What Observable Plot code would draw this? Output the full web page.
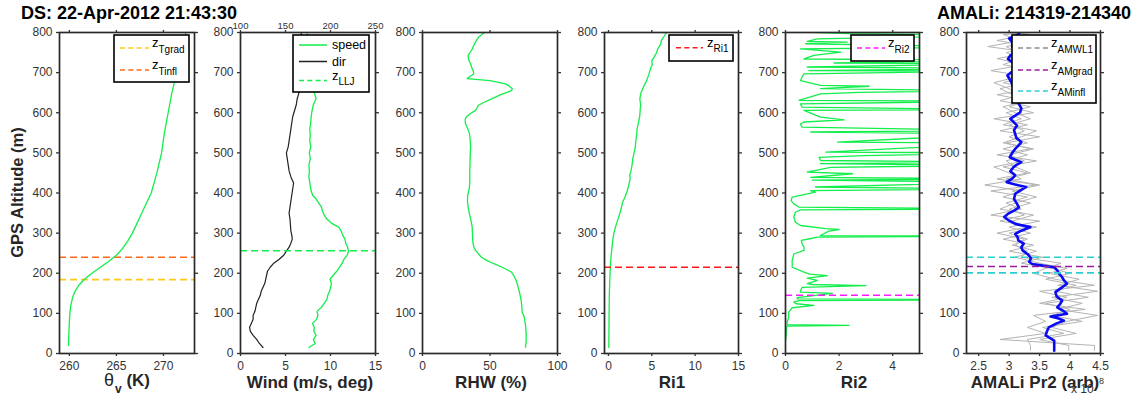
<!DOCTYPE html>
<html>
<head>
<meta charset="utf-8">
<script src="https://cdn.jsdelivr.net/npm/d3@7"></script>
<script src="https://cdn.jsdelivr.net/npm/@observablehq/plot@0.6"></script>
<style>
  body { margin: 0; background: #fff; font-family: "Liberation Sans", Arial, sans-serif; }
  #fig { position: relative; width: 1140px; height: 399px; overflow: hidden; background: #fff; }
</style>
</head>
<body>
<div id="fig"></div>
<script>
// ---- Dropsonde profiles: [altitude (m), value] ----
const thetaProfile = [
  [20,259.9],[50,259.95],[80,260.0],[100,260.05],[120,260.15],[140,260.35],[155,260.6],[170,261.0],
  [185,261.6],[200,262.4],[215,263.3],[230,264.2],[245,265.0],[260,265.6],[280,266.2],[300,266.7],
  [320,267.1],[340,267.5],[360,267.9],[380,268.3],[400,268.7],[450,269.3],[500,269.8],[550,270.1],
  [600,270.5],[650,270.9],[700,271.4],[750,271.9],[800,272.4]
];
const windSpeed = [
  [15,7.6],[25,8.3],[35,8.1],[45,8.4],[55,8.15],[65,8.2],[75,8.0],[85,8.45],[95,8.6],[105,8.5],
  [115,9.0],[125,9.3],[135,9.6],[145,9.7],[155,9.9],[165,10.0],[175,10.1],[185,9.95],[195,10.3],
  [205,10.7],[215,11.0],[225,11.3],[235,11.5],[245,11.85],[255,12.0],[265,11.9],[275,11.7],
  [285,11.6],[295,11.35],[305,11.2],[315,10.9],[325,10.1],[335,9.6],[345,9.3],[355,9.1],[365,9.0],
  [375,8.7],[385,8.4],[395,8.0],[410,7.8],[425,7.7],[440,7.6],[455,7.65],[470,7.6],[485,7.75],
  [500,7.65],[515,7.8],[530,7.7],[545,7.75],[560,7.7],[575,7.8],[590,7.85],[605,7.95],[620,8.1],
  [635,8.4],[650,8.2],[665,8.0],[680,7.9],[700,7.8],[720,7.7],[740,7.75],[760,7.6],[780,7.5],[800,7.4]
];
const windDir = [
  [15,125],[25,121],[35,118],[45,114],[55,111],[65,110],[75,112],[85,114],[95,114],[105,116],
  [115,117],[125,118],[135,120],[145,122],[155,123],[165,125],[175,127],[185,128],[195,129],
  [205,130],[215,133],[225,137],[235,143],[245,148],[255,151],[265,154],[275,156],[285,157.5],
  [295,157],[305,156],[320,155.5],[335,155],[350,154],[365,155],[380,156],[395,157],[410,158],
  [425,159],[440,156],[455,154],[470,153],[485,152],[500,151],[515,153],[530,154],[545,155],
  [560,156],[575,157],[590,158],[605,160],[620,162],[635,163],[650,165],[670,165],[690,166],
  [710,166],[730,167],[750,167],[770,168],[800,167.5]
];
const rhwProfile = [
  [16,76.3],[30,76.8],[49,76.8],[65,76.5],[82,75.8],[95,75.0],[103,73.8],[120,73.5],[132,73.1],
  [150,72.0],[170,70.5],[182,69.4],[195,67.5],[203,65.9],[210,62],[215,59],[225,52],[232,47.5],
  [240,43.7],[250,41],[257,39.3],[265,38],[277,37.3],[300,37.0],[315,36.8],[330,36],[348,34.8],
  [365,33.8],[380,33.3],[395,33.5],[410,34.6],[425,35.0],[440,35.0],[456,35.0],[470,35.2],
  [490,35.3],[514,35.6],[530,35.4],[548,34.8],[560,33.5],[573,31.8],[582,31.6],[589,32.3],
  [597,35.0],[606,39.3],[612,40.5],[618,41.2],[625,45],[635,51.6],[645,58],[650,62],[655,65.9],
  [660,66.5],[667,64],[672,61.5],[680,50],[685,33.1],[692,36],[697,38],[705,37.5],[712,36.5],
  [722,35.6],[732,34.2],[743,33.8],[752,35.5],[760,37],[768,38],[778,39.5],[789,41.7],[795,44],[800,46]
];
const ri1Profile = [
  [15,0.04],[50,0.05],[100,0.07],[150,0.1],[200,0.18],[230,0.25],[260,0.38],[280,0.48],[300,0.62],
  [315,0.8],[330,1.02],[345,1.25],[360,1.45],[375,1.6],[390,1.9],[405,2.15],[420,2.35],[435,2.5],
  [445,2.45],[455,2.6],[470,2.72],[485,2.8],[500,2.95],[515,3.1],[530,3.15],[545,3.25],[560,3.3],
  [575,3.45],[590,3.6],[605,3.65],[620,3.7],[635,3.62],[650,3.75],[665,4.05],[680,4.4],[695,4.65],
  [710,4.85],[720,5.05],[730,5.0],[740,5.3],[750,5.55],[760,5.7],[770,6.0],[780,6.1],[790,6.4],[800,6.7]
];
const ri2Profile = [
  [32,0],[49,0.03],[65,0.04],[68,0.05],[70,2.37],[72,0.06],[78,0.06],[90,0.12],[103,0.12],[114,0.25],
  [120,1.06],[124,0.4],[128,0.31],[132,0.5],[134,8],[136,0.44],[139,0.44],[150,1.75],[153,0.56],
  [157,0.56],[165,0.62],[169,3.0],[172,1.0],[174,0.81],[182,1.19],[188,0.81],[194,1.56],[198,0.9],
  [203,0.69],[215,0.25],[232,0.25],[248,0.31],[257,0.69],[265,0.69],[273,0.62],[282,0.59],[286,0.9],
  [290,1.2],[292,8],[294,1.3],[305,1.62],[309,2.0],[311,1.5],[319,0.56],[327,0.37],[340,0.31],
  [352,0.37],[358,0.56],[360,8],[365,0.5],[373,0.31],[381,0.21],[390,0.25],[402,1.12],[406,0.94],
  [410,8],[415,1.12],[427,8],[432,1.0],[435,8],[439,0.94],[448,2.5],[452,0.81],[464,1.69],[469,8],
  [473,1.3],[477,8],[481,1.31],[489,1.25],[493,2.94],[500,8],[502,1.5],[524,8],[527,1.94],[547,8],
  [552,0.94],[556,8],[564,0.62],[572,0.56],[577,0.69],[582,2.19],[589,1.31],[606,0.69],[608,8],
  [614,0.62],[622,0.56],[629,8],[631,0.5],[647,1.31],[651,2.75],[655,8],[660,1.31],[666,3.12],
  [668,1.31],[680,0.56],[689,0.62],[697,0.69],[704,8],[705,0.87],[710,8],[714,0.81],[722,8],
  [724,1.81],[731,8],[734,0.69],[743,1.06],[751,2.06],[759,0.56],[764,8],[772,0.75],[776,2.3],
  [778,0.81],[784,1.19],[793,8],[797,2.4],[801,0.69]
];

// ---- AMALi lidar backscatter (x 1e8, arb) ----
const amaliAlt = [
  8,20,35,50,65,80,95,110,125,140,
  155,170,185,200,212,225,240,255,270,285,
  300,315,330,345,360,375,390,405,420,435,
  450,465,480,495,510,525,540,555,570,585,
  600,615,630,645,660,675,690,705,720,735,
  750,765,780,795,800
];
const amaliPr2A = [
  3.35,3.35,3.30,3.90,3.55,4.20,3.70,4.00,3.60,4.30,
  3.75,4.10,3.60,4.00,3.70,3.20,3.55,3.00,3.40,2.90,
  3.35,3.00,3.50,2.70,3.20,2.95,3.30,2.70,3.45,2.80,
  3.30,2.90,3.45,2.80,3.35,2.95,3.50,2.85,3.30,2.75,
  3.40,3.00,3.30,2.80,3.35,2.90,3.30,2.70,3.25,2.80,
  3.35,2.65,3.20,2.90,3.40
];
const amaliPr2B = [
  3.98,3.98,3.50,4.10,3.70,3.95,4.45,3.80,4.20,3.70,
  4.45,3.80,4.15,3.65,3.95,3.50,3.10,3.45,3.05,3.30,
  3.00,3.45,2.85,3.25,3.00,3.35,2.90,3.20,2.60,3.20,
  3.00,2.75,3.25,3.00,3.40,2.90,3.20,3.45,2.90,3.20,
  2.95,3.35,2.85,3.20,3.00,2.75,3.15,3.40,2.90,3.20,
  2.95,3.40,2.80,3.30,3.00
];
const amaliPr2C = [
  4.40,4.40,2.85,3.60,3.30,3.60,3.40,4.25,3.50,3.95,
  3.50,4.40,3.75,3.40,3.60,3.85,3.20,3.30,3.10,3.25,
  2.80,3.30,3.05,3.40,2.85,3.10,3.45,3.05,3.50,2.95,
  3.35,3.10,2.95,3.30,2.90,3.30,3.00,3.25,3.00,3.35,
  3.10,2.90,3.30,3.05,2.85,3.30,3.00,3.20,3.50,3.00,
  3.15,2.95,3.50,3.10,3.20
];
const amaliSmooth = [
  [7,3.74],[32,3.74],[45,3.6],[55,3.62],[65,3.65],[75,3.78],[82,3.9],[88,3.8],[92,3.68],[99,3.95],
  [107,3.88],[115,3.79],[124,3.84],[132,3.87],[142,3.78],[153,3.76],[163,3.85],[174,3.95],[182,3.9],
  [190,3.87],[199,3.82],[207,3.79],[215,3.74],[219,3.55],[223,3.38],[228,3.33],[238,3.36],[248,3.3],
  [257,3.22],[265,3.2],[274,3.24],[282,3.15],[290,3.14],[298,3.1],[306,3.2],[315,3.35],[323,3.1],
  [331,3.0],[340,2.92],[348,2.98],[356,3.08],[364,3.16],[373,3.13],[385,3.08],[398,3.1],[406,3.18],
  [415,3.28],[421,3.1],[427,2.96],[436,3.05],[444,3.1],[454,3.02],[464,3.07],[470,3.12],[477,3.2],
  [483,3.1],[489,3.01],[500,3.05],[510,3.1],[518,3.15],[527,3.2],[537,3.12],[547,3.1],[557,3.08],
  [568,3.13],[576,3.08],[585,3.02],[593,3.1],[601,3.18],[611,3.2],[622,3.16],[630,3.12],[639,3.1],
  [651,3.06],[664,3.07],[678,3.03],[693,2.97],[699,3.02],[705,3.07],[715,3.1],[726,3.05],[734,2.98],
  [743,3.02],[749,3.08],[755,3.13],[765,3.05],[776,3.05],[785,3.0],[793,3.13],[801,3.18]
];

// ---- Derived boundary-layer heights (m) ----
const zTgrad = 184, zTinfl = 240, zLLJ = 256, zRi1 = 215, zRi2 = 145;
const zAMgrad = 217, zAMinfl = [201, 240];

// ---- Axis ticks ----
const altTicks = [0, 100, 200, 300, 400, 500, 600, 700, 800];
const thetaTicks = [260, 265, 270];
const windTicks = [0, 5, 10, 15];
const dirTickLabels = [100, 150, 200, 250];
const rhwTicks = [0, 50, 100];
const ri1Ticks = [0, 5, 10, 15];
const ri2Ticks = [0, 2, 4];
const pr2Ticks = [2.5, 3, 3.5, 4, 4.5];

const GREEN = "#12ee4a";
const fig = document.getElementById("fig");

function panel({left, width = 135, domain, ticks, topFormat, marks}) {
  const mL = 42, mR = 8;
  const svg = Plot.plot({
    width: mL + width + mR,
    height: 399,
    marginLeft: mL, marginRight: mR, marginTop: 32, marginBottom: 46,
    style: {background: "transparent", overflow: "visible", color: "#333",
            fontFamily: "'Liberation Sans', Arial, sans-serif", fontSize: "12px"},
    x: {domain, label: null},
    y: {domain: [0, 800], label: null},
    marks: [
      ...marks,
      Plot.frame({stroke: "#2a2a2a", strokeWidth: 1.7}),
      Plot.axisY({ticks: altTicks, tickSize: 3, tickPadding: 4, fontSize: 12, label: null, strokeWidth: 1.3,
                  tickFormat: d => String(d)}),
      Plot.axisY({anchor: "right", ticks: altTicks, tickSize: 3, tickFormat: () => "", label: null, strokeWidth: 1.3}),
      Plot.axisX({ticks, tickSize: 3, tickPadding: 5, fontSize: 12, label: null, strokeWidth: 1.3,
                  tickFormat: d => String(d)}),
      Plot.axisX({anchor: "top", ticks, tickSize: 3, tickPadding: 1, fontSize: 9.5, label: null, strokeWidth: 1.3,
                  tickFormat: topFormat || (() => "")})
    ]
  });
  svg.style.position = "absolute";
  svg.style.left = (left - mL) + "px";
  svg.style.top = "0px";
  fig.appendChild(svg);
}

const dash = "7,4";
const X1 = d => d[1], Y0 = d => d[0];

// Virtual potential temperature
panel({
  left: 59, domain: [258.95, 273.3], ticks: thetaTicks,
  marks: [
    Plot.ruleY([zTgrad], {stroke: "#ffc81a", strokeWidth: 1.6, strokeDasharray: dash}),
    Plot.ruleY([zTinfl], {stroke: "#ff6a1a", strokeWidth: 1.6, strokeDasharray: dash}),
    Plot.line(thetaProfile, {x: X1, y: Y0, stroke: GREEN, strokeWidth: 1.3, clip: true})
  ]
});

// Wind speed (bottom axis) and direction (top axis, 100-250 deg)
panel({
  left: 240, domain: [0, 15], ticks: windTicks,
  topFormat: (d, i) => String(dirTickLabels[i]),
  marks: [
    Plot.line(windDir, {x: d => (d[1] - 100) / 10, y: Y0, stroke: "#222", strokeWidth: 1.2, clip: true}),
    Plot.line(windSpeed, {x: X1, y: Y0, stroke: GREEN, strokeWidth: 1.3, clip: true}),
    Plot.ruleY([zLLJ], {stroke: GREEN, strokeWidth: 1.6, strokeDasharray: dash})
  ]
});

// Relative humidity over water
panel({
  left: 422, domain: [0, 100], ticks: rhwTicks,
  marks: [Plot.line(rhwProfile, {x: X1, y: Y0, stroke: GREEN, strokeWidth: 1.3, clip: true})]
});

// Bulk Richardson number
panel({
  left: 604, width: 134, domain: [-0.46, 15], ticks: ri1Ticks,
  marks: [
    Plot.line(ri1Profile, {x: X1, y: Y0, stroke: GREEN, strokeWidth: 1.3, clip: true}),
    Plot.ruleY([zRi1], {stroke: "#ff1a1a", strokeWidth: 1.6, strokeDasharray: dash})
  ]
});

// Gradient Richardson number
panel({
  left: 785, width: 134, domain: [0, 5], ticks: ri2Ticks,
  marks: [
    Plot.line(ri2Profile, {x: X1, y: Y0, stroke: GREEN, strokeWidth: 1.3, clip: true}),
    Plot.ruleY([zRi2], {stroke: "#ff1aff", strokeWidth: 1.6, strokeDasharray: dash})
  ]
});

// AMALi range-corrected backscatter
panel({
  left: 966, width: 134, domain: [2.3, 4.5], ticks: pr2Ticks,
  marks: [
    Plot.line(amaliAlt, {x: amaliPr2A, y: amaliAlt, stroke: "#b4b4b4", strokeWidth: 1, clip: true}),
    Plot.line(amaliAlt, {x: amaliPr2B, y: amaliAlt, stroke: "#b4b4b4", strokeWidth: 1, clip: true}),
    Plot.line(amaliAlt, {x: amaliPr2C, y: amaliAlt, stroke: "#b4b4b4", strokeWidth: 1, clip: true}),
    Plot.line(amaliSmooth, {x: X1, y: Y0, stroke: "#0a0af5", strokeWidth: 2.6, clip: true}),
    Plot.ruleY(zAMinfl, {stroke: "#2ccfcf", strokeWidth: 1.6, strokeDasharray: dash}),
    Plot.ruleY([zAMgrad], {stroke: "#9a1aa0", strokeWidth: 1.6, strokeDasharray: dash})
  ]
});

// ---- Titles, axis labels and legends ----
const ov = d3.select(fig).append("svg")
  .attr("width", 1140).attr("height", 399)
  .style("position", "absolute").style("left", "0px").style("top", "0px")
  .attr("font-family", "'Liberation Sans', Arial, sans-serif");

ov.append("text").attr("x", 21).attr("y", 19).attr("font-size", 18).attr("font-weight", "bold")
  .attr("fill", "#000").text("DS: 22-Apr-2012 21:43:30");
ov.append("text").attr("x", 1131).attr("y", 19).attr("font-size", 18).attr("font-weight", "bold")
  .attr("text-anchor", "end").attr("fill", "#000").text("AMALi: 214319-214340");

ov.append("text").attr("transform", "translate(23,192.5) rotate(-90)").attr("text-anchor", "middle")
  .attr("font-size", 16.5).attr("font-weight", "bold").attr("fill", "#262626").text("GPS Altitude (m)");

const xl = (x, s) => ov.append("text").attr("x", x).attr("y", 387.5).attr("text-anchor", "middle")
  .attr("font-size", 17).attr("font-weight", "bold").attr("fill", "#262626").text(s);
const th = ov.append("text").attr("x", 127).attr("y", 386).attr("text-anchor", "middle")
  .attr("font-size", 17).attr("font-weight", "bold").attr("fill", "#262626");
th.append("tspan").attr("font-weight", "normal").attr("font-size", 18).text("θ");
th.append("tspan").attr("dy", 7).attr("dx", 1).attr("font-size", 12).text("v");
th.append("tspan").attr("dy", -7).text(" (K)");
xl(310, "Wind (m/s, deg)");
xl(491, "RHW (%)");
xl(672, "Ri1");
xl(854, "Ri2");
xl(1035, "AMALi Pr2 (arb)");
ov.append("text").attr("x", 1071).attr("y", 392.5).attr("font-size", 12).attr("fill", "#333").text("x 10");
ov.append("text").attr("x", 1099).attr("y", 384).attr("font-size", 9).attr("fill", "#333").text("8");

function legend(x, y, w, h, items) {
  const g = ov.append("g").attr("transform", `translate(${x},${y})`);
  g.append("rect").attr("width", w).attr("height", h).attr("fill", "#fff")
    .attr("stroke", "#000").attr("stroke-width", 1.6);
  for (const it of items) {
    g.append("line").attr("x1", it.x0).attr("x2", it.x1).attr("y1", it.cy).attr("y2", it.cy)
      .attr("stroke", it.color).attr("stroke-width", 1.5)
      .attr("stroke-dasharray", it.dashed ? "5,3.3" : null);
    if (it.sub) {
      const t = g.append("text").attr("x", it.tx).attr("y", it.cy - 1).attr("font-size", 13).attr("fill", "#000");
      t.append("tspan").text(it.main);
      t.append("tspan").attr("dy", 5.5).attr("font-size", 10).text(it.sub);
    } else {
      g.append("text").attr("x", it.tx).attr("y", it.cy + 4).attr("font-size", 12.5).attr("fill", "#000").text(it.main);
    }
  }
}

legend(114, 35, 75, 47, [
  {cy: 13, x0: 6, x1: 35, tx: 38, color: "#ffc81a", dashed: true, main: "z", sub: "Tgrad"},
  {cy: 35, x0: 6, x1: 35, tx: 38, color: "#ff6a1a", dashed: true, main: "z", sub: "Tinfl"}
]);
legend(293, 35, 76, 57, [
  {cy: 10, x0: 6, x1: 34, tx: 39, color: GREEN, dashed: false, main: "speed"},
  {cy: 26.5, x0: 6, x1: 34, tx: 39, color: "#222", dashed: false, main: "dir"},
  {cy: 45.5, x0: 6, x1: 34, tx: 39, color: GREEN, dashed: true, main: "z", sub: "LLJ"}
]);
legend(669, 35, 64, 26, [
  {cy: 12.7, x0: 7, x1: 34, tx: 38, color: "#ff1a1a", dashed: true, main: "z", sub: "Ri1"}
]);
legend(851, 35, 63, 26, [
  {cy: 13, x0: 6, x1: 34, tx: 37, color: "#ff1aff", dashed: true, main: "z", sub: "Ri2"}
]);
legend(1012, 35, 84, 68, [
  {cy: 13, x0: 6, x1: 36, tx: 39, color: "#8c8c8c", dashed: true, main: "z", sub: "AMWL1"},
  {cy: 35, x0: 6, x1: 36, tx: 39, color: "#9a1aa0", dashed: true, main: "z", sub: "AMgrad"},
  {cy: 56, x0: 6, x1: 36, tx: 39, color: "#2ccfcf", dashed: true, main: "z", sub: "AMinfl"}
]);
</script>
</body>
</html>
